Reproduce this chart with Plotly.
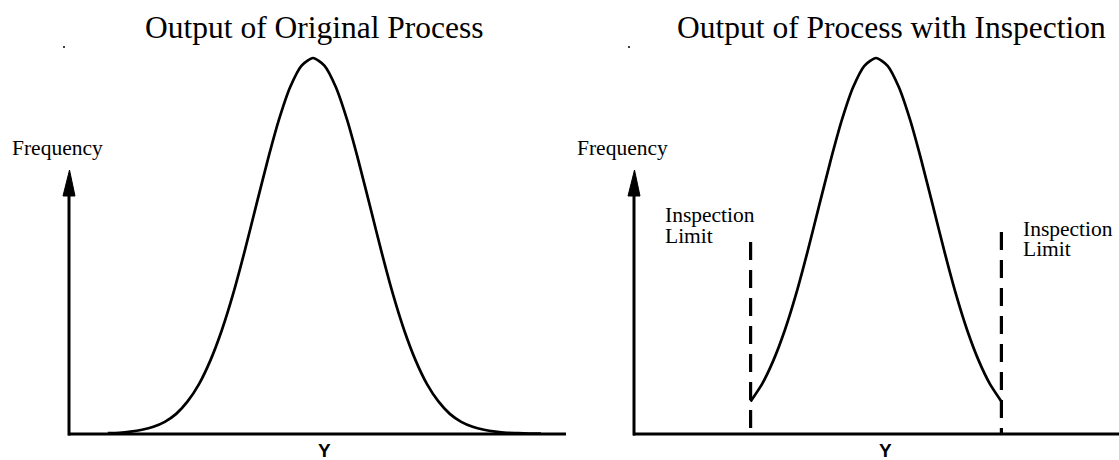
import plotly.graph_objects as go

# ---------------- data ----------------
# Y position in units of the process standard deviation, frequency in % of the peak
Y_POS = [-3.6, -3.4, -3.2, -3.0, -2.8, -2.6, -2.4, -2.2, -2.0, -1.8, -1.6, -1.4, -1.2,
         -1.0, -0.8, -0.6, -0.4, -0.2, 0.0, 0.2, 0.4, 0.6, 0.8, 1.0, 1.2, 1.4, 1.6,
         1.8, 2.0, 2.2, 2.4, 2.6, 2.8, 3.0, 3.2, 3.4, 3.6, 3.8, 4.0]
FREQ_ORIGINAL = [0.5, 0.6, 0.9, 1.4, 2.2, 3.5, 5.6, 8.9, 13.5, 19.8, 27.8, 37.5, 48.7,
                 60.7, 72.6, 83.5, 92.3, 98.0, 100.0, 98.0, 92.3, 83.5, 72.6, 60.7, 48.7,
                 37.5, 27.8, 19.8, 13.5, 8.9, 5.6, 3.5, 2.2, 1.4, 0.9, 0.6, 0.5, 0.4, 0.4]

Y_POS_INSPECTED = [-2.2, -2.0, -1.8, -1.6, -1.4, -1.2, -1.0, -0.8, -0.6, -0.4, -0.2, 0.0,
                   0.2, 0.4, 0.6, 0.8, 1.0, 1.2, 1.4, 1.6, 1.8, 2.0, 2.2]
FREQ_INSPECTED = [8.9, 13.5, 19.8, 27.8, 37.5, 48.7, 60.7, 72.6, 83.5, 92.3, 98.0, 100.0,
                  98.0, 92.3, 83.5, 72.6, 60.7, 48.7, 37.5, 27.8, 19.8, 13.5, 8.9]

INSPECTION_LIMITS = [-2.2, 2.2]

TITLES = ["Output of Original Process", "Output of Process with Inspection"]
Y_AXIS_LABEL = "Frequency"
X_AXIS_LABEL = "Y"
LIMIT_LABEL = ["Inspection", "Limit"]

# ---------------- geometry (pixels) ----------------
W, H = 1119, 460
CENTER_PX = [313, 876]      # pixel of Y = 0 in each panel
PX_PER_SIGMA = 57.0
BASE_PX = 435.0             # pixel row of frequency 0
PEAK_PX = 58.0              # pixel row of frequency 100
PX_PER_FREQ = (BASE_PX - PEAK_PX) / 100.0

SERIF = "Liberation Serif"
SANS = "Liberation Sans"


def px(x):
    return x / W


def py(y):
    return 1 - y / H


fig = go.Figure()

curve_style = dict(color="black", width=2.7, shape="spline", smoothing=0.6)
fig.add_trace(go.Scatter(x=Y_POS, y=FREQ_ORIGINAL, mode="lines", line=curve_style,
                         xaxis="x", yaxis="y", showlegend=False, hoverinfo="skip"))
fig.add_trace(go.Scatter(x=Y_POS_INSPECTED, y=FREQ_INSPECTED, mode="lines", line=curve_style,
                         xaxis="x2", yaxis="y2", showlegend=False, hoverinfo="skip"))

# axis ranges so that data units map to the measured pixels
half = W / 2
x1_range = [(0 - CENTER_PX[0]) / PX_PER_SIGMA, (half - CENTER_PX[0]) / PX_PER_SIGMA]
x2_range = [(half - CENTER_PX[1]) / PX_PER_SIGMA, (W - CENTER_PX[1]) / PX_PER_SIGMA]
y_range = [-(H - BASE_PX) / PX_PER_FREQ, BASE_PX / PX_PER_FREQ]

hidden = dict(visible=False, showgrid=False, zeroline=False, fixedrange=True)
fig.update_layout(
    width=W, height=H, autosize=False,
    margin=dict(l=0, r=0, t=0, b=0, pad=0),
    paper_bgcolor="white", plot_bgcolor="white",
    xaxis=dict(domain=[0, 0.5], range=x1_range, **hidden),
    xaxis2=dict(domain=[0.5, 1], range=x2_range, **hidden),
    yaxis=dict(domain=[0, 1], range=y_range, anchor="x", **hidden),
    yaxis2=dict(domain=[0, 1], range=y_range, anchor="x2", **hidden),
    showlegend=False,
)

shapes = []
# axes with arrows (decoration, in pixel/paper coordinates)
for y_axis_px, x_start, x_end in [(69, 68, 566), (634, 633, 1119)]:
    shapes.append(dict(type="line", xref="paper", yref="paper",
                       x0=px(x_start), x1=px(x_end), y0=py(434), y1=py(434),
                       line=dict(color="black", width=3)))
    shapes.append(dict(type="line", xref="paper", yref="paper",
                       x0=px(y_axis_px), x1=px(y_axis_px), y0=py(435.5), y1=py(192),
                       line=dict(color="black", width=3)))
    path = (f"M {px(y_axis_px - 6)},{py(196)} L {px(y_axis_px + 0.5)},{py(170)} "
            f"L {px(y_axis_px + 6)},{py(196)} Z")
    shapes.append(dict(type="path", xref="paper", yref="paper", path=path,
                       fillcolor="black", line=dict(color="black", width=1)))

# small specks printed in the original scan
for sx in [64, 629]:
    shapes.append(dict(type="circle", xref="paper", yref="paper",
                       x0=px(sx - 1), x1=px(sx + 1), y0=py(48), y1=py(46),
                       fillcolor="black", line=dict(width=0)))

# inspection limit dashed lines
limit_tops_px = [242, 232]
for lim, top in zip(INSPECTION_LIMITS, limit_tops_px):
    shapes.append(dict(type="line", xref="x2", yref="y2",
                       x0=lim, x1=lim, y0=(BASE_PX - top) / PX_PER_FREQ, y1=0,
                       line=dict(color="black", width=3.2, dash="18px,10px")))
fig.update_layout(shapes=shapes)

ann = []
for title, cx in zip(TITLES, [314, 891]):
    ann.append(dict(text=title, xref="paper", yref="paper", x=px(cx), y=py(28),
                    xanchor="center", yanchor="middle", showarrow=False,
                    font=dict(family=SERIF, size=31.5, color="black")))
for lx in [10, 575]:
    ann.append(dict(text=Y_AXIS_LABEL, xref="paper", yref="paper", x=px(lx), y=py(148),
                    xanchor="left", yanchor="middle", showarrow=False,
                    font=dict(family=SERIF, size=21.5, color="black")))
for cx in [324.5, 885]:
    ann.append(dict(text="<b>" + X_AXIS_LABEL + "</b>", xref="paper", yref="paper",
                    x=px(cx), y=py(450), xanchor="center", yanchor="middle",
                    showarrow=False, font=dict(family=SANS, size=19, color="black")))
for lx, ys in [(664, [215, 236]), (1022, [229, 249])]:
    for txt, yy in zip(LIMIT_LABEL, ys):
        ann.append(dict(text=txt, xref="paper", yref="paper", x=px(lx), y=py(yy),
                        xanchor="left", yanchor="middle", showarrow=False, borderpad=0,
                        font=dict(family=SERIF, size=21.5, color="black")))
fig.update_layout(annotations=ann)

fig.write_html("out.html", config={"displayModeBar": False},
               post_script="document.body.style.margin='0';document.body.style.padding='0';")
